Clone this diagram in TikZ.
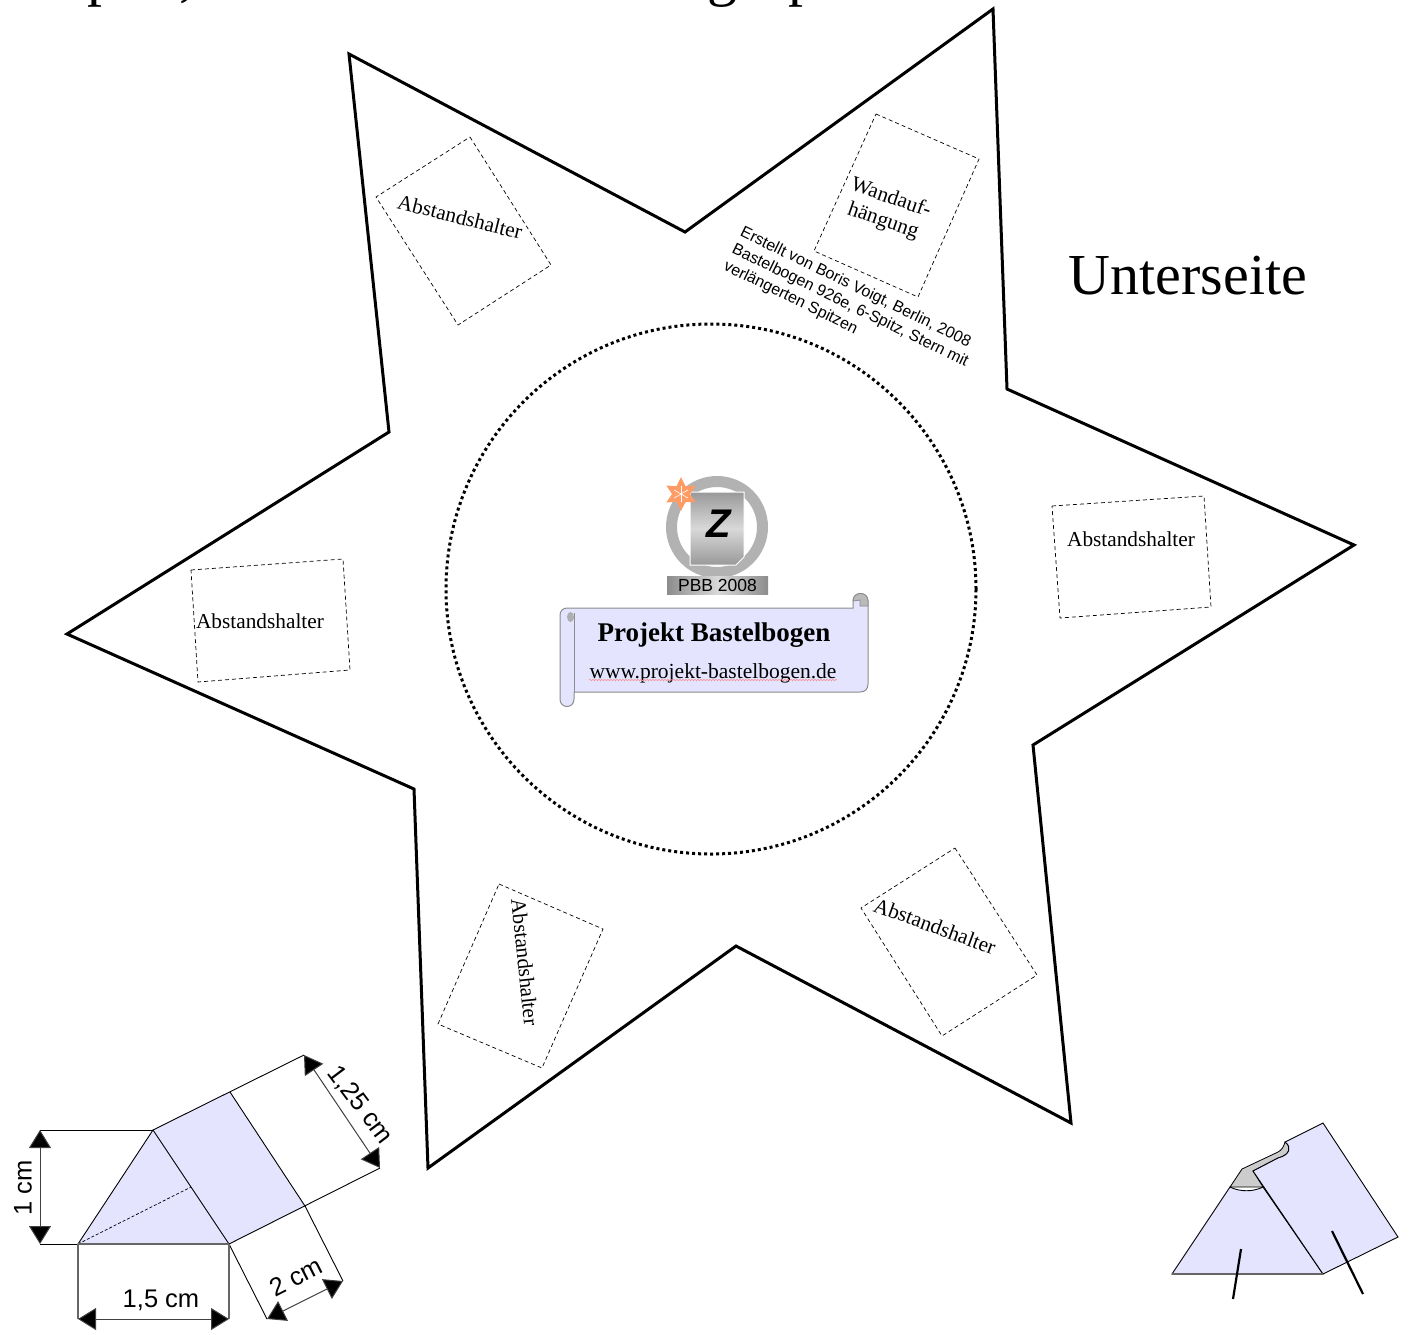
\documentclass[tikz,border=0pt]{standalone}
\usepackage{fontspec}
\setmainfont{Liberation Serif}
\newfontfamily\labelfont{Liberation Sans}
\usetikzlibrary{arrows.meta,shapes.geometric,decorations.pathmorphing}
\definecolor{lavender}{HTML}{E4E4FF}
\definecolor{frameGray}{HTML}{8C8C8C}
\tikzset{
  inner sep=0pt,
  outline/.style={draw, line width=3pt, line join=miter},
  holdbox/.style={draw, line width=0.7pt, dash pattern=on 4pt off 3pt},
  holdtext/.style={font=\fontsize{21.3}{24}\selectfont, align=center},
  dimline/.style={line width=1pt, black!75, {Triangle[length=18pt,width=22pt,fill=black]}-{Triangle[length=18pt,width=22pt,fill=black]}},
  dimtext/.style={font=\labelfont\fontsize{25.5}{28}\selectfont},
  helpline/.style={draw, line width=0.9pt},
  greyline/.style={draw, line width=1.2pt, black!60},
  cutletter/.style={font=\fontsize{60}{60}\selectfont, anchor=base},
}
\begin{document}
\begin{tikzpicture}[x=1pt, y=-1pt]
  \clip (0,0) rectangle (1414,1334);

  % cut off line at the top
  \node[cutletter] (cut1) at (102, -6) {p};
  \node[cutletter] (cut2) at (187, -6) {,};
  \node[cutletter] (cut3) at (722, -6) {g};
  \node[cutletter] (cut4) at (803, -6) {p};

  % star
  \draw[outline] (349,54) -- (685,232) -- (993,9) -- (1007,389) -- (1354,545) -- (1033,745)
    -- (1071,1123) -- (736,946) -- (428,1168) -- (414,789) -- (67,634) -- (389,432) -- cycle;
  \node[circle, draw, line width=3pt, dash pattern=on 3pt off 3pt, minimum size=530pt] (disc) at (711,589) {};

  % spacer fields
  \draw[holdbox] (470,137) -- (551,265) -- (458,325) -- (376,197) -- cycle;
  \draw[holdbox] (876,114) -- (979,159) -- (918,297) -- (814,251) -- cycle;
  \draw[holdbox] (1052,506) -- (1204,496) -- (1211,607) -- (1060,618) -- cycle;
  \draw[holdbox] (191,570) -- (343,559) -- (350,670) -- (198,682) -- cycle;
  \draw[holdbox] (955,848) -- (1037,975) -- (942,1036) -- (861,908) -- cycle;
  \draw[holdbox] (499,884) -- (603,929) -- (542,1068) -- (438,1024) -- cycle;

  \node[holdtext, rotate=-14] (hold1) at (460,217) {Abstandshalter};
  \node[holdtext, rotate=-19] (wall)  at (887,210) {Wandauf-\\hängung};
  \node[holdtext]             (hold2) at (1131,539) {Abstandshalter};
  \node[holdtext]             (hold3) at (260,621) {Abstandshalter};
  \node[holdtext, rotate=-20] (hold4) at (935,926) {Abstandshalter};
  \node[holdtext, rotate=-84] (hold5) at (525,962) {Abstandshalter};

  \node[font=\labelfont\fontsize{16}{19}\selectfont, align=left, rotate=-26] (credit) at (850,306)
    {Erstellt von Boris Voigt, Berlin, 2008\\Bastelbogen 926e, 6-Spitz, Stern mit\\verlängerten Spitzen};
  \node[font=\fontsize{58}{60}\selectfont] (side) at (1188,276) {Unterseite};

  % logo
  \node[circle, draw=black!30, line width=11pt, minimum size=91pt] (ring) at (717,527) {};
  \path[draw=white, line width=1pt, top color=black!40, bottom color=black!40, middle color=black!15]
    (690,492) -- (744,492) -- (744,557) -- (736,565) -- (690,565) -- cycle;
  \node[font=\labelfont\bfseries\itshape\fontsize{40}{40}\selectfont] (zed) at (719,524) {Z};
  \node[star, star points=6, star point ratio=1.9, fill=orange!70!red!60, minimum size=34pt] (spark) at (681,494) {};
  \foreach \a in {30,90,...,330}
    \draw[white, line width=0.6pt] (spark.center) -- ++(\a:8pt);
  \node[left color=black!45, right color=black!45, middle color=black!15, minimum width=101pt, minimum height=18pt,
    font=\labelfont\fontsize{17.5}{18}\selectfont] (year) at (717.5,585) {PBB 2008};

  % scroll
  \draw[fill=lavender, draw=frameGray, line width=1pt]
    (567,608) -- (853,608) -- (853,601)
    .. controls (853,591) and (868,591) .. (868,601)
    -- (868,684) .. controls (868,689) and (865,692) .. (860,692)
    -- (574,692) -- (574,699)
    .. controls (574,709) and (560,709) .. (560,699)
    -- (560,615) .. controls (560,611) and (563,608) .. (567,608) -- cycle;
  \draw[draw=frameGray, line width=1pt] (574,692) -- (574,613);
  \fill[frameGray!70] (570.5,617) ellipse[x radius=3.5pt, y radius=5pt];
  \draw[fill=frameGray!60, draw=frameGray, line width=0.8pt]
    (853,601) .. controls (853,591) and (868,591) .. (868,601) -- (868,606) -- (860,606) -- (860,600) -- cycle;
  \node[font=\bfseries\fontsize{27}{27}\selectfont] (title) at (714,635) {Projekt Bastelbogen};
  \node[font=\fontsize{21.5}{22}\selectfont] (url) at (713,673) {www.projekt-bastelbogen.de};
  \draw[red!45, line width=0.5pt, decorate, decoration={snake, amplitude=0.7pt, segment length=3pt}]
    (589,680) -- (837,680);

  % left sketch with its sizes
  \coordinate (baseL) at (78,1244);
  \coordinate (apex)  at (153,1130);
  \coordinate (baseR) at (229,1244);
  \coordinate (flapT) at (230,1092);
  \coordinate (flapB) at (305,1206);
  \coordinate (endT)  at (304,1055);
  \coordinate (endB)  at (380,1168);
  \coordinate (midS)  at (191,1187);
  \coordinate (footA) at (78,1319);
  \coordinate (footB) at (229,1319);
  \coordinate (footC) at (267,1319);
  \coordinate (footD) at (343,1281);
  \coordinate (sideA) at (40,1130);
  \coordinate (sideB) at (40,1244);

  \path[fill=lavender] (baseL) -- (apex) -- (baseR) -- cycle;
  \path[fill=lavender] (apex) -- (flapT) -- (flapB) -- (baseR) -- cycle;
  \draw[helpline] (baseL) -- (apex) -- (baseR);
  \draw[line width=0.7pt, dash pattern=on 3pt off 2pt] (baseL) -- (midS);
  \draw[helpline] (apex) -- (endT);
  \draw[helpline] (flapT) -- (flapB);
  \draw[helpline] (baseR) -- (endB);
  \draw[helpline] (baseR) -- (footC);
  \draw[helpline] (flapB) -- (footD);
  \draw[helpline] (sideA) -- (apex);
  \draw[helpline] (sideB) -- (baseL);
  \draw[greyline] (baseL) -- (baseR);
  \draw[greyline] (baseL) -- (footA);
  \draw[greyline] (baseR) -- (footB);

  \draw[dimline] (sideA) -- (sideB);
  \draw[dimline] (footA) -- (footB);
  \draw[dimline] (footC) -- (footD);
  \draw[dimline] (endT) -- (endB);

  \node[dimtext, rotate=90]  (dimA) at (23,1188)  {1 cm};
  \node[dimtext]             (dimB) at (161,1300) {1,5 cm};
  \node[dimtext, rotate=27]  (dimC) at (296,1277) {2 cm};
  \node[dimtext, rotate=-53] (dimD) at (360,1105) {1,25 cm};

  % right sketch, shown folded
  \coordinate (tipL)  at (1172,1274);
  \coordinate (tipR)  at (1323,1274);
  \coordinate (peak)  at (1242,1169);
  \coordinate (slotA) at (1253,1171);
  \coordinate (slotB) at (1285,1142);
  \coordinate (edgeT) at (1323,1123);
  \coordinate (edgeR) at (1398,1237);
  \coordinate (arcL)  at (1230,1187);
  \coordinate (arcR)  at (1263,1187);
  \coordinate (pinA)  at (1241,1249);
  \coordinate (pinB)  at (1233,1299);
  \coordinate (pinC)  at (1332,1231);
  \coordinate (pinD)  at (1363,1294);

  \draw[fill=black!20, line width=0.8pt] (peak) -- (1278,1152) .. controls (1282,1150) and (1284,1146) .. (slotB)
    .. controls (1292,1147) and (1290,1155) .. (1278,1158) -- (slotA) -- (arcR) -- (arcL) -- cycle;
  \draw[fill=lavender, line width=0.9pt] (tipL) -- (arcL) .. controls (1240,1192) and (1253,1192) .. (arcR) -- (tipR) -- cycle;
  \draw[fill=lavender, line width=0.9pt] (slotA) -- (1278,1158) .. controls (1290,1155) and (1292,1147) .. (slotB)
    -- (edgeT) -- (edgeR) -- (tipR) -- cycle;
  \draw[greyline] (tipL) -- (tipR);
  \draw[line width=2.2pt] (pinA) -- (pinB);
  \draw[line width=2.2pt] (pinC) -- (pinD);
\end{tikzpicture}
\end{document}
